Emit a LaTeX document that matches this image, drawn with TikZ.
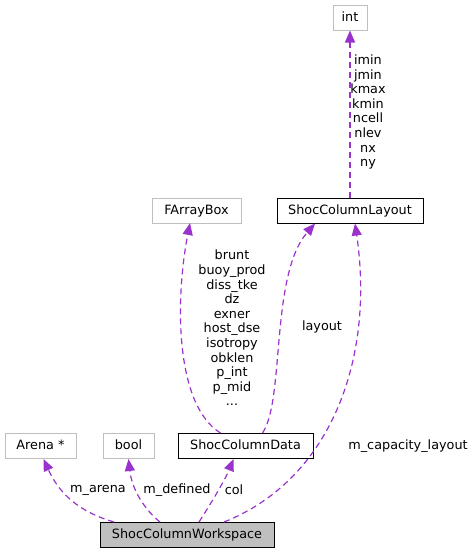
\documentclass[tikz,border=0pt]{standalone}
\usepackage{fontspec}
\setmainfont{DejaVu Sans}
\usetikzlibrary{arrows.meta}
\definecolor{edgec}{HTML}{9A32CD}
\definecolor{graybd}{HTML}{BFBFBF}
\begin{document}
\begin{tikzpicture}[x=1pt,y=-1pt,
  every node/.style={font=\fontsize{12.8}{14.5}\selectfont, inner sep=0pt},
  cls/.style={draw=black, line width=1pt, minimum height=25pt, text height=9.5pt, text depth=2.5pt},
  ext/.style={draw=graybd, line width=1pt, minimum height=25pt, text height=9.5pt, text depth=2.5pt},
  dep/.style={draw=edgec, dash pattern=on 6pt off 4pt, line width=1.2pt, -{Triangle[length=12pt,width=10pt,fill=edgec]}},
  lbl/.style={align=center, font=\fontsize{12.8}{14.6}\selectfont}]
\useasboundingbox (0,0) rectangle (475,555);
\node[ext, minimum width=34pt] (int) at (350,17.5) {int};
\node[cls, minimum width=146pt] (layout) at (350,210.5) {ShocColumnLayout};
\node[ext, minimum width=89pt] (farray) at (196.5,210.5) {FArrayBox};
\node[ext, minimum width=71pt] (arena) at (40.5,446) {Arena *};
\node[ext, minimum width=51pt] (bool) at (128.5,446) {bool};
\node[cls, minimum width=135pt] (data) at (245.5,446) {ShocColumnData};
\node[cls, minimum width=174pt, fill=graybd] (ws) at (187,535) {ShocColumnWorkspace};

\draw[dep] (layout.north) -- (int.south);
\node[lbl] at (368,112) {imin\\jmin\\kmax\\kmin\\ncell\\nlev\\nx\\ny};

\draw[dep] ([xshift=-25pt]data.north) .. controls (175,405) and (175,300) .. (190,223);
\node[lbl] at (232,328) {brunt\\buoy\_prod\\diss\_tke\\dz\\exner\\host\_dse\\isotropy\\obklen\\p\_int\\p\_mid\\...};

\draw[dep] ([xshift=17pt]data.north) .. controls (285,400) and (270,275) .. ([xshift=-35pt]layout.south);
\node[lbl] at (322,327) {layout};

\draw[dep] ([xshift=37pt]ws.north) .. controls (330,480) and (375,360) .. ([xshift=5pt]layout.south);
\node[lbl] at (408,446) {m\_capacity\_layout};

\draw[dep] ([xshift=-73pt]ws.north) .. controls (80,512) and (60,495) .. ([xshift=3pt]arena.south);
\node[lbl] at (98,490) {m\_arena};

\draw[dep] ([xshift=-27pt]ws.north) .. controls (145,510) and (132,490) .. (bool.south);
\node[lbl] at (177,490) {m\_defined};

\draw[dep] ([xshift=12pt]ws.north) .. controls (210,505) and (225,480) .. ([xshift=-12pt]data.south);
\node[lbl] at (234,490) {col};
\end{tikzpicture}
\end{document}
